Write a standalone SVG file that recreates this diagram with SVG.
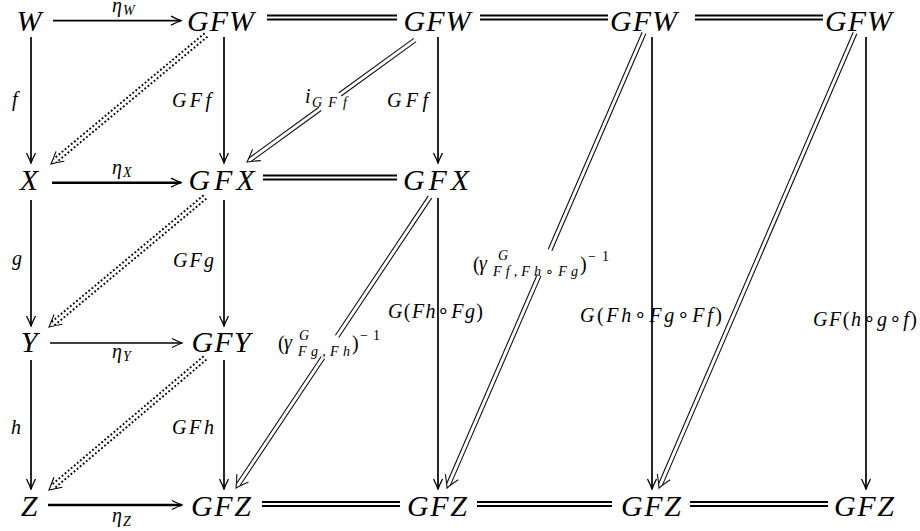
<svg xmlns="http://www.w3.org/2000/svg" width="920" height="531" viewBox="0 0 920 531" font-family="'Liberation Serif', 'Times New Roman', Times, serif">
<defs>
<style>
text{font-family:'Liberation Serif','Times New Roman',Times,serif}
.node{font-style:italic;font-size:30px;fill:#000}
.lbl{font-style:italic;font-size:20px;fill:#000}
.sub{font-style:italic;font-size:14px;fill:#000}
.up{font-style:normal}
.ar{stroke:#000;fill:none;stroke-width:1.7}
.thick{stroke-width:2.6}
.eq{stroke:#000;stroke-width:1.8;fill:none}
.dbl{stroke:#111;stroke-width:1.1;fill:none}
.dot{stroke:#000;stroke-width:1.9;fill:none;stroke-dasharray:1.8 2.2}
.head{stroke:#000;stroke-width:1.1;fill:none}
</style>
<marker id="ah" markerUnits="userSpaceOnUse" markerWidth="24" markerHeight="24" viewBox="-14 -12 24 24" refX="0" refY="0" orient="auto" overflow="visible">
<path d="M-10,-4.5 Q-4,-1.5 0,0 Q-4,1.5 -10,4.5" fill="none" stroke="#000" stroke-width="1.3"/>
</marker>
</defs>
<rect width="920" height="531" fill="#fff"/>

<g id="connectors">
<line class="ar" x1="53" y1="20.7" x2="181" y2="20.7" marker-end="url(#ah)"/>
<line class="ar thick" x1="52" y1="182.7" x2="181" y2="182.7" marker-end="url(#ah)"/>
<line class="ar" x1="50" y1="343" x2="182" y2="343" marker-end="url(#ah)"/>
<line class="ar thick" x1="48" y1="505" x2="182" y2="505" marker-end="url(#ah)"/>
<path class="eq" d="M267,15.5 H397 M267,19.5 H397 M480,15.5 H608 M480,19.5 H608 M695,15.5 H823 M695,19.5 H823"/>
<path class="eq" d="M263,175.5 H397 M263,179.5 H397"/>
<path class="eq" d="M262,502 H400 M262,506 H400 M477,502 H612 M477,506 H612 M690,502 H828 M690,506 H828"/>
<line class="ar" x1="31" y1="37" x2="31" y2="163" marker-end="url(#ah)"/>
<line class="ar" x1="31" y1="200" x2="31" y2="326" marker-end="url(#ah)"/>
<line class="ar" x1="31" y1="360" x2="31" y2="489" marker-end="url(#ah)"/>
<line class="ar" x1="224" y1="37" x2="224" y2="163" marker-end="url(#ah)"/>
<line class="ar" x1="224" y1="200" x2="224" y2="326" marker-end="url(#ah)"/>
<line class="ar" x1="224" y1="360" x2="224" y2="489" marker-end="url(#ah)"/>
<line class="ar" x1="438" y1="37" x2="438" y2="163" marker-end="url(#ah)"/>
<line class="ar" x1="438" y1="198" x2="438" y2="489" marker-end="url(#ah)"/>
<line class="ar" x1="652" y1="37" x2="652" y2="489" marker-end="url(#ah)"/>
<line class="ar" x1="866" y1="37" x2="866" y2="489" marker-end="url(#ah)"/>
<g transform="translate(51,164) rotate(140.23)">
<path class="dot" d="M-201.7,-2.2 H-5 M-201.7,2.2 H-5"/>
<path class="head" d="M-12,-6.5 Q-5,-2.5 0,0 Q-5,2.5 -12,6.5"/>
</g>
<g transform="translate(49,327) rotate(140.19)">
<path class="dot" d="M-203.1,-2.2 H-5 M-203.1,2.2 H-5"/>
<path class="head" d="M-12,-6.5 Q-5,-2.5 0,0 Q-5,2.5 -12,6.5"/>
</g>
<g transform="translate(49,490) rotate(139.76)">
<path class="dot" d="M-204.4,-2.2 H-5 M-204.4,2.2 H-5"/>
<path class="head" d="M-12,-6.5 Q-5,-2.5 0,0 Q-5,2.5 -12,6.5"/>
</g>
<g transform="translate(247,162) rotate(144.01)">
<path class="dbl" d="M-207.6,-2 H-115 M-90.3,-2 H-4 M-207.6,2 H-115 M-90.3,2 H-4"/>
<path class="dbl" d="M-12,-7 Q-5,-2.5 0,0 Q-5,2.5 -12,7"/>
</g>
<g transform="translate(236,488) rotate(123.69)">
<path class="dbl" d="M-349.7,-2 H-182.2 M-156.7,-2 H-4 M-349.7,2 H-182.2 M-156.7,2 H-4"/>
<path class="dbl" d="M-12,-7 Q-5,-2.5 0,0 Q-5,2.5 -12,7"/>
</g>
<g transform="translate(447,488) rotate(113.41)">
<path class="dbl" d="M-495.8,-2 H-259.3 M-232,-2 H-4 M-495.8,2 H-259.3 M-232,2 H-4"/>
<path class="dbl" d="M-12,-7 Q-5,-2.5 0,0 Q-5,2.5 -12,7"/>
</g>
<g transform="translate(659,488) rotate(113.31)">
<path class="dbl" d="M-495.4,-2 H-4 M-495.4,2 H-4"/>
<path class="dbl" d="M-12,-7 Q-5,-2.5 0,0 Q-5,2.5 -12,7"/>
</g>
</g>

<g id="labels">
<text class="lbl" x="112" y="12">η</text><text class="sub" x="123" y="15">W</text>
<text class="lbl" x="112" y="174">η</text><text class="sub" x="123" y="177">X</text>
<text class="lbl" x="112" y="358">η</text><text class="sub" x="123" y="361">Y</text>
<text class="lbl" x="112" y="522">η</text><text class="sub" x="123" y="526">Z</text>
<text class="lbl" x="12" y="106">f</text>
<text class="lbl" x="12" y="265">g</text>
<text class="lbl" x="11" y="434">h</text>
<text class="lbl" x="172" y="107" textLength="39" lengthAdjust="spacing">GFf</text>
<text class="lbl" x="173" y="267" textLength="41" lengthAdjust="spacing">GFg</text>
<text class="lbl" x="172" y="434" textLength="42" lengthAdjust="spacing">GFh</text>
<text class="lbl" x="387" y="107" textLength="41" lengthAdjust="spacing">GFf</text>
<text class="lbl" x="305" y="103">i</text><text class="sub" x="312" y="107" textLength="35" lengthAdjust="spacing">GFf</text>
<text class="lbl" x="388" y="318" textLength="95" lengthAdjust="spacing">G<tspan class="up">(</tspan>Fh<tspan class="up">∘</tspan>Fg<tspan class="up">)</tspan></text>
<text class="lbl" x="580" y="322" textLength="142" lengthAdjust="spacing">G<tspan class="up">(</tspan>Fh<tspan class="up">∘</tspan>Fg<tspan class="up">∘</tspan>Ff<tspan class="up">)</tspan></text>
<text class="lbl" x="813" y="326" textLength="104" lengthAdjust="spacing">GF<tspan class="up">(</tspan>h<tspan class="up">∘</tspan>g<tspan class="up">∘</tspan>f<tspan class="up">)</tspan></text>
<text class="lbl up" x="278" y="350">(</text>
<text class="lbl" x="284" y="349">γ</text>
<text class="sub" x="299" y="340">G</text>
<text class="sub" x="298" y="356" textLength="52" lengthAdjust="spacing">Fg,Fh</text>
<text class="lbl up" x="352" y="350">)</text>
<text class="sub up" x="360" y="340" textLength="20" lengthAdjust="spacing">−1</text>
<text class="lbl up" x="473" y="271">(</text>
<text class="lbl" x="479" y="270">γ</text>
<text class="sub" x="498" y="260">G</text>
<text class="sub" x="493" y="276" textLength="85" lengthAdjust="spacing">Ff,Fh<tspan class="up">∘</tspan>Fg</text>
<text class="lbl up" x="580" y="271">)</text>
<text class="sub up" x="588" y="261" textLength="21" lengthAdjust="spacing">−1</text>
</g>

<g id="n-W"><text class="node" x="29" y="31" text-anchor="middle">W</text></g>
<g id="n-X"><text class="node" x="29" y="190" text-anchor="middle">X</text></g>
<g id="n-Y"><text class="node" x="29" y="352" text-anchor="middle">Y</text></g>
<g id="n-Z"><text class="node" x="29" y="516" text-anchor="middle">Z</text></g>
<g id="n-GFW1"><text class="node" x="187" y="31" textLength="67" lengthAdjust="spacing">GFW</text></g>
<g id="n-GFX1"><text class="node" x="188.5" y="190" textLength="66" lengthAdjust="spacing">GFX</text></g>
<g id="n-GFY1"><text class="node" x="191.5" y="352" textLength="59" lengthAdjust="spacing">GFY</text></g>
<g id="n-GFZ1"><text class="node" x="191" y="516" textLength="60" lengthAdjust="spacing">GFZ</text></g>
<g id="n-GFW2"><text class="node" x="403.5" y="31" textLength="67" lengthAdjust="spacing">GFW</text></g>
<g id="n-GFX2"><text class="node" x="403" y="190" textLength="66" lengthAdjust="spacing">GFX</text></g>
<g id="n-GFZ2"><text class="node" x="407" y="516" textLength="60" lengthAdjust="spacing">GFZ</text></g>
<g id="n-GFW3"><text class="node" x="610" y="31" textLength="67" lengthAdjust="spacing">GFW</text></g>
<g id="n-GFZ3"><text class="node" x="621" y="516" textLength="60" lengthAdjust="spacing">GFZ</text></g>
<g id="n-GFW4"><text class="node" x="825" y="31" textLength="67" lengthAdjust="spacing">GFW</text></g>
<g id="n-GFZ4"><text class="node" x="834" y="516" textLength="60" lengthAdjust="spacing">GFZ</text></g>
</svg>
